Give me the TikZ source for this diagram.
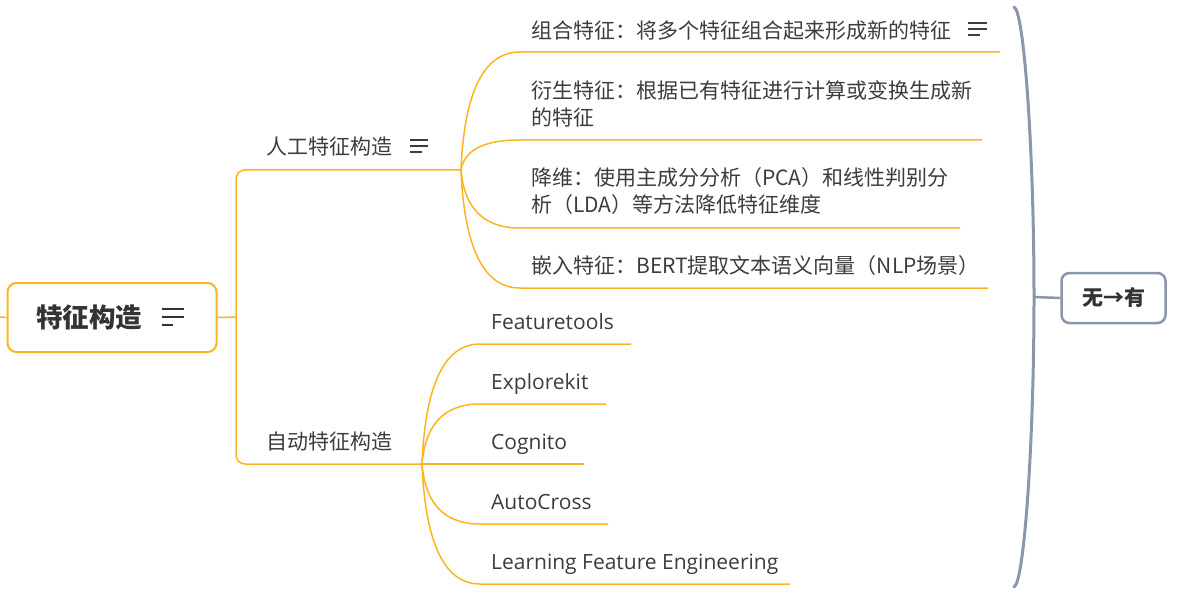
\documentclass[tikz,border=0pt]{standalone}
\usepackage{fontspec}
\setmainfont{Open Sans}
\newfontfamily\cjk{Noto Sans CJK SC}
\definecolor{brc}{HTML}{FFB41F}
\definecolor{gry}{HTML}{8A96AA}
\definecolor{txtc}{HTML}{3C3C3C}
\definecolor{dark}{HTML}{333333}
\begin{document}
\begin{tikzpicture}[x=1pt,y=-1pt,
  conn/.style={draw=brc, line width=1.5pt},
  cn/.style={anchor=base west, inner sep=0pt, text=txtc, font=\cjk\fontsize{21}{27}\selectfont, align=left},
  ln/.style={anchor=base west, inner sep=0pt, text=txtc, font=\fontsize{21}{27}\selectfont},
  noteic/.style={line width=2pt, draw=#1},
]
\useasboundingbox (0,0) rectangle (1178,596);

% root
\node[draw=brc, line width=2pt, rounded corners=9pt, minimum width=209pt, minimum height=69pt, inner sep=0pt] (root) at (112,317.5) {};
\node[anchor=base west, inner sep=0pt, text=dark, font=\cjk\bfseries\fontsize{26.5}{30}\selectfont] (rt) at (36,327) {特征构造};
\draw[noteic=dark] (162,309) -- (184,309) (162,317) -- (184,317) (162,325) -- (173,325);
\coordinate (lft) at (0,317);
\coordinate (v) at (236,317);
\draw[conn] (lft) -- (root.west);
\draw[conn] (root.east) -- (v);

% main branches
\coordinate (h1) at (461,170);
\coordinate (h2) at (422,464);
\draw[conn, rounded corners=9pt] (h1) -| (v) |- (h2);
\node[cn] (m1) at (266,155) {人工特征构造};
\draw[noteic=txtc] (410,140) -- (428,140) (410,146) -- (428,146) (410,152) -- (422,152);
\node[cn] (m2) at (266,449) {自动特征构造};

% children of 人工特征构造
\foreach \n/\y/\e in {1/52/1000, 2/140/982, 3/228/960, 4/288/988}{
  \coordinate (a\n s) at (520,\y);
  \coordinate (a\n e) at (\e,\y);
  \draw[conn] (h1) .. controls (464.3,{(170+2*\y)/3}) and (484,\y) .. (a\n s) -- (a\n e);
}
\node[cn] (t1) at (531,39) {组合特征：将多个特征组合起来形成新的特征};
\draw[noteic=txtc] (968,23) -- (987,23) (968,29) -- (987,29) (968,35) -- (980,35);
\node[cn] (t2) at (531,126) {衍生特征：根据已有特征进行计算或变换生成新\\的特征};
\node[cn] (t3) at (531,213) {降维：使用主成分分析（PCA）和线性判别分\\析（LDA）等方法降低特征维度};
\node[cn] (t4) at (531,273) {嵌入特征：BERT提取文本语义向量（NLP场景）};

% children of 自动特征构造
\foreach \n/\y/\e in {1/344/631, 2/404/606, 4/524/608, 5/584/790}{
  \coordinate (b\n s) at (480,\y);
  \coordinate (b\n e) at (\e,\y);
  \draw[conn] (h2) .. controls (425.3,{(464+2*\y)/3}) and (444.7,\y) .. (b\n s) -- (b\n e);
}
\coordinate (b3e) at (584,464);
\draw[conn] (h2) -- (b3e);
\node[ln] (u1) at (491,329.5) {Featuretools};
\node[ln] (u2) at (491,389.5) {Explorekit};
\node[ln] (u3) at (491,449.5) {Cognito};
\node[ln] (u4) at (491,509.5) {AutoCross};
\node[ln] (u5) at (491,569.5) {Learning Feature Engineering};

% summary brace
\coordinate (bt) at (1014,7);
\coordinate (bm) at (1034,297);
\coordinate (bb) at (1014,587);
\draw[draw=gry, line width=3pt, line cap=round] (bt) .. controls (1024,10) and (1034,150) .. (bm) .. controls (1034,444) and (1024,584) .. (bb);
\node[draw=gry, line width=2.5pt, rounded corners=8pt, minimum width=104pt, minimum height=50pt, inner sep=0pt, text=dark, font=\cjk\bfseries\fontsize{21}{24}\selectfont] (res) at (1113.5,298) {无→有};
\draw[draw=gry, line width=2.5pt] (bm) -- (res.west);
\end{tikzpicture}
\end{document}
